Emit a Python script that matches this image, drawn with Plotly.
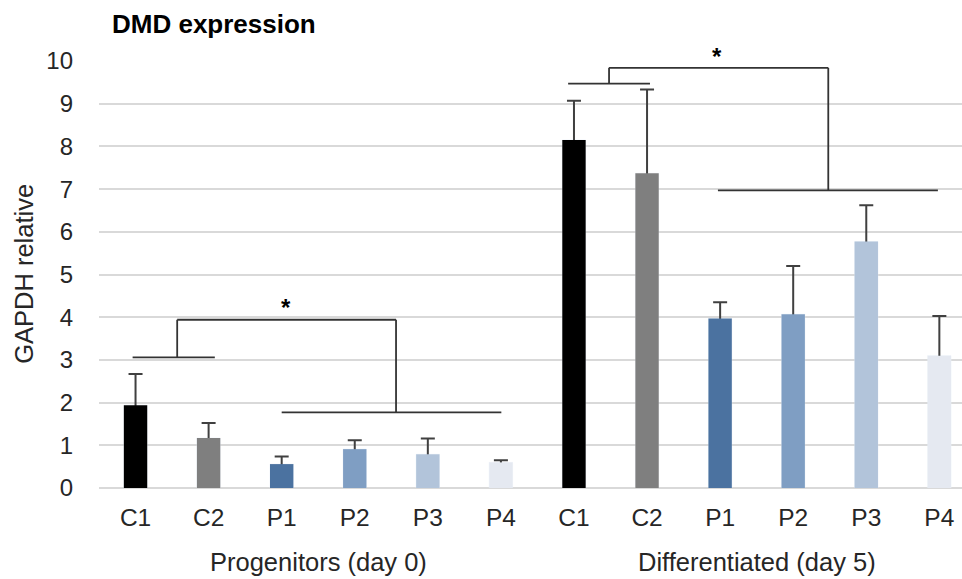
import plotly.graph_objects as go

# ---- data ----
samples = ["C1", "C2", "P1", "P2", "P3", "P4"]
groups = ["Progenitors (day 0)", "Differentiated (day 5)"]
progenitor_values = [1.94, 1.17, 0.56, 0.91, 0.79, 0.60]
progenitor_errors = [0.73, 0.35, 0.18, 0.21, 0.37, 0.05]
differentiated_values = [8.15, 7.37, 3.97, 4.07, 5.77, 3.10]
differentiated_errors = [0.92, 1.96, 0.38, 1.13, 0.85, 0.93]
y_ticks = [0, 1, 2, 3, 4, 5, 6, 7, 8, 9, 10]
Y_MAX = 10

# significance brackets: (left_group_x0, left_group_x1, left_y, join_x,
#                          top_y, right_join_x, right_y, right_x0, right_x1, star_x, star_y)
bracket_progenitors = [-0.04, 1.085, 3.06, 0.57, 3.94, 3.565, 1.77, 2.0, 5.006, 2.056, 4.22]
bracket_differentiated = [5.92, 7.04, 9.47, 6.48, 9.84, 9.48, 6.97, 7.97, 10.98, 7.96, 10.11]

sample_colors = ["#000000", "#7f7f7f", "#4b72a0", "#7f9ec3", "#b2c4da", "#e5e9f1"]

# ---- build ----
values = progenitor_values + differentiated_values
errors = progenitor_errors + differentiated_errors
labels = samples + samples
positions = list(range(len(values)))
colors = sample_colors + sample_colors

FONT = "Liberation Sans, Arial, sans-serif"
TXT = "#262626"
CAP_HIDE = 0.08  # pushes the (unwanted) lower cap just inside the bar, where it is covered

fig = go.Figure()
# error bars (drawn first so the bars hide the lower cap)
fig.add_trace(go.Bar(
    x=positions, y=values, width=0.32,
    marker=dict(color="rgba(0,0,0,0)"),
    error_y=dict(type="data", symmetric=False, array=errors,
                 arrayminus=[CAP_HIDE] * len(errors), color="#404040",
                 thickness=2, width=7),
    hoverinfo="skip", showlegend=False,
))
fig.add_trace(go.Bar(
    x=positions, y=values, width=0.32,
    marker=dict(color=colors, line=dict(width=0)),
    showlegend=False,
))

line_style = dict(color="#333333", width=1.8)
for b in (bracket_progenitors, bracket_differentiated):
    lx0, lx1, ly, jx, ty, rjx, ry, rx0, rx1, sx, sy = b
    segs = [
        (lx0, ly, lx1, ly),
        (jx, ly, jx, ty),
        (jx, ty, rjx, ty),
        (rjx, ty, rjx, ry),
        (rx0, ry, rx1, ry),
    ]
    for x0, y0, x1, y1 in segs:
        fig.add_shape(type="line", xref="x", yref="y", x0=x0, y0=y0, x1=x1, y1=y1,
                      line=line_style, layer="above")
    fig.add_annotation(x=sx, y=sy / Y_MAX, xref="x", yref="paper", text="<b>*</b>",
                       showarrow=False, font=dict(family=FONT, size=24, color="#000"),
                       xanchor="center", yanchor="middle")

# group labels
for i, g in enumerate(groups):
    fig.add_annotation(x=2.5 + 6 * i, y=-0.173, xref="x", yref="paper", text=g,
                       showarrow=False, font=dict(family=FONT, size=25.5, color=TXT),
                       xanchor="center", yanchor="middle")

# y axis title
fig.add_annotation(x=-75 / 863, y=0.5015, xref="paper", yref="paper",
                   text="GAPDH relative", textangle=-90, showarrow=False,
                   font=dict(family=FONT, size=25.5, color=TXT),
                   xanchor="center", yanchor="middle")

fig.update_layout(
    width=962, height=579,
    margin=dict(l=99, r=0, t=61, b=91, pad=0),
    paper_bgcolor="white", plot_bgcolor="white",
    barmode="overlay",
    title=dict(text="<b>DMD expression</b>", x=112 / 962, xanchor="left",
               y=1 - 24 / 579, yanchor="middle",
               font=dict(family=FONT, size=26, color="#000")),
    font=dict(family=FONT, size=24, color=TXT),
    xaxis=dict(range=[-0.5, 11.31], tickmode="array", tickvals=positions,
               ticktext=labels, showgrid=False, zeroline=False,
               showline=False, ticks="", ticklabelstandoff=12,
               tickfont=dict(family=FONT, size=24.5, color=TXT), fixedrange=True),
    yaxis=dict(range=[0, Y_MAX], tickmode="array", tickvals=y_ticks,
               showgrid=True, gridcolor="#d9d9d9", gridwidth=1.5,
               zeroline=True, zerolinecolor="#d9d9d9", zerolinewidth=1.5,
               showline=False, ticks="", ticklabelstandoff=25,
               tickfont=dict(family=FONT, size=24, color=TXT), fixedrange=True),
)

fig.write_html(
    "out.html",
    config={"displayModeBar": False},
    post_script="document.body.style.margin='0';document.body.style.overflow='hidden';",
)
